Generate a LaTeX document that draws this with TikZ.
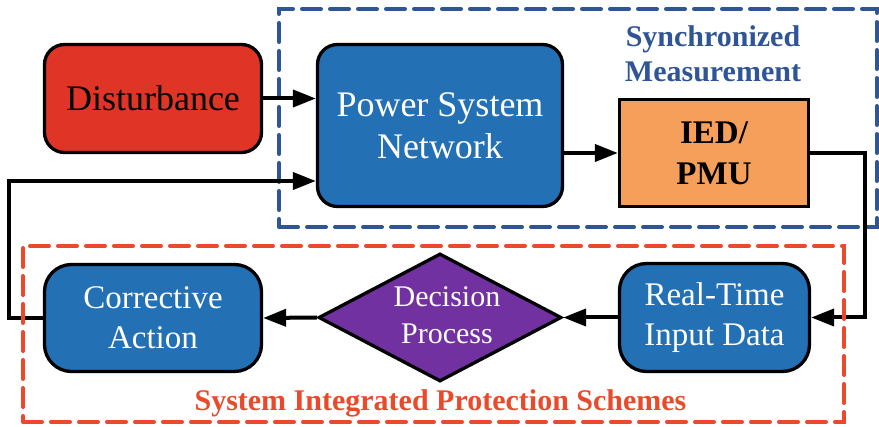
\documentclass[tikz,border=0pt]{standalone}
\usepackage{fontspec}
\setmainfont{Liberation Serif}
\usetikzlibrary{arrows.meta,shapes.geometric}
\definecolor{distred}{HTML}{E03526}
\definecolor{boxblue}{HTML}{2370B5}
\definecolor{iedorange}{HTML}{F59F5A}
\definecolor{decpurple}{HTML}{7131A1}
\definecolor{syncblue}{HTML}{2F5597}
\definecolor{sipsred}{HTML}{EA4A2B}
\begin{document}
\begin{tikzpicture}[x=1pt,y=-1pt,
  block/.style={draw=black, line width=3.3pt, align=center, inner sep=0pt},
  roundblock/.style={block, rounded corners=20pt},
  bigtext/.style={font=\fontsize{36}{42}\selectfont},
  midtext/.style={font=\fontsize{33}{40}\selectfont},
  conn/.style={draw=black, line width=4pt, -{Triangle[length=23pt,width=17pt]}},
  region/.style={draw, line width=4pt, line cap=round, dash pattern=on 19pt off 9pt, inner sep=0pt}
]
\useasboundingbox (0,0) rectangle (879,427);

% synchronized measurement area
\node (syncarea) [region, draw=syncblue, minimum width=598, minimum height=218] at (578,118) {};
\node (synclabel) [text=syncblue, align=center, font=\fontsize{30}{35}\selectfont\bfseries] at (713,54) {Synchronized\\Measurement};

% blocks
\node (dist) [roundblock, fill=distred, bigtext, minimum width=217, minimum height=108] at (153,98.5) {Disturbance};
\node (psn) [roundblock, fill=boxblue, text=white, bigtext, minimum width=245, minimum height=162] at (440,125.5) {Power System\\Network};
\node (ied) [block, fill=iedorange, font=\fontsize{33}{41}\selectfont\bfseries, minimum width=189, minimum height=107] at (714,153) {IED/\\PMU};
\node (corr) [roundblock, rounded corners=27pt, fill=boxblue, text=white, midtext, minimum width=217, minimum height=107] at (153,318) {Corrective\\Action};
\node (rt) [roundblock, rounded corners=27pt, fill=boxblue, text=white, midtext, minimum width=190, minimum height=108] at (714.5,317.5) {Real-Time\\Input Data};
\node (dec) [diamond, draw=black, line width=3.3pt, fill=decpurple, inner sep=0pt, minimum width=243, minimum height=128] at (440,317.5) {};
\node (dectext) [text=white, align=center, font=\fontsize{30}{37}\selectfont] at (447,315) {Decision\\Process};

% connectors
\coordinate (fbend) at (9,181);
\draw[conn] (dist.east) -- (psn.west |- dist.east);
\draw[conn] (psn.east |- ied.west) -- (ied.west);
\draw[conn] (ied.east) -- ++(55,0) |- (rt.east);
\draw[conn] (rt.west) -- (dec.east);
\draw[conn] (dec.west) -- (corr.east);
\draw[conn] (corr.west) -| (fbend) -- (psn.west |- fbend);

% protection scheme area
\node (sipsarea) [region, draw=sipsred, minimum width=821, minimum height=176] at (433.5,334) {};
\node (sipslabel) [text=sipsred, font=\fontsize{30}{35}\selectfont\bfseries] at (440.5,403) {System Integrated Protection Schemes};
\end{tikzpicture}
\end{document}
